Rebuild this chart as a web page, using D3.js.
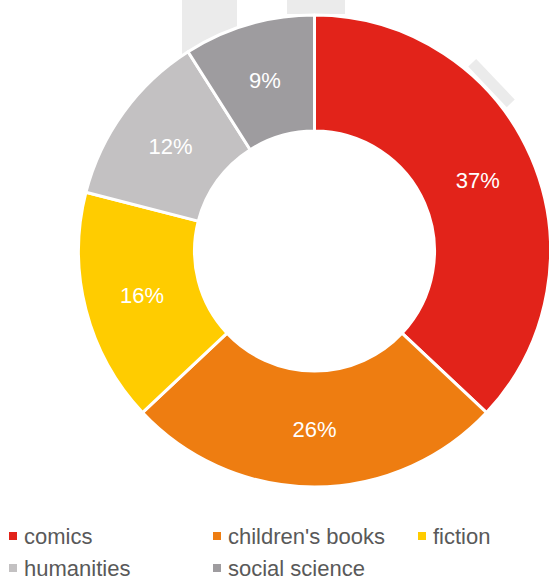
<!DOCTYPE html>
<html>
<head>
<meta charset="utf-8">
<script src="https://cdn.jsdelivr.net/npm/d3@7"></script>
<style>
  body { margin: 0; background: #fff; }
  svg { display: block; font-family: "Liberation Sans", Arial, sans-serif; }
</style>
</head>
<body>
<svg width="549" height="579"></svg>
<script>
// chart values
const categories = ["comics", "children's books", "fiction", "humanities", "social science"];
const shares = [37, 26, 16, 12, 9];
const colours = ["#e2231a", "#ee7d11", "#ffcc00", "#c3c1c2", "#9e9c9f"];

// faint backdrop pieces peeking out behind the ring
const backdropBars = [
  { x0: 182, x1: 237, depth: 60 },
  { x0: 287, x1: 345, depth: 14 }
];
const backdropTabs = [{ angle: 46.5, radius: 244, length: 56, thickness: 11 }];

function drawDonut()
{
  const svg = d3.select("svg");
  const cx = 314.5, cy = 251;
  const outerR = 236, innerR = 120;

  const back = svg.append("g").attr("fill", "#ebebeb");
  backdropBars.forEach((b) =>
  {
    back.append("rect")
      .attr("x", b.x0).attr("y", 0)
      .attr("width", b.x1 - b.x0).attr("height", b.depth);
  });
  backdropTabs.forEach((t) =>
  {
    const rad = t.angle * Math.PI / 180;
    const px = cx + t.radius * Math.sin(rad);
    const py = cy - t.radius * Math.cos(rad);
    back.append("rect")
      .attr("x", -t.length / 2).attr("y", -t.thickness / 2)
      .attr("width", t.length).attr("height", t.thickness)
      .attr("transform", `translate(${px},${py}) rotate(${t.angle})`);
  });

  const pie = d3.pie().sort(null).value((d) => d);
  const arc = d3.arc().innerRadius(innerR).outerRadius(outerR);
  const arcs = pie(shares);

  const ring = svg.append("g").attr("transform", `translate(${cx},${cy})`);
  ring.selectAll("path")
    .data(arcs)
    .join("path")
    .attr("d", arc)
    .attr("fill", (d, i) => colours[i])
    .attr("stroke", "#fff")
    .attr("stroke-width", 3)
    .attr("stroke-linejoin", "round");

  ring.selectAll("text")
    .data(arcs)
    .join("text")
    .attr("transform", (d) => `translate(${arc.centroid(d)})`)
    .attr("text-anchor", "middle")
    .attr("dy", "0.36em")
    .attr("fill", "#fff")
    .attr("font-size", 22)
    .text((d) => d.data + "%");

  // legend, three columns
  const colX = d3.scaleOrdinal().domain([0, 1, 2]).range([9, 213, 418]);
  const rowY = d3.scaleOrdinal().domain([0, 1]).range([544, 576]);
  const legend = svg.append("g");
  categories.forEach((name, i) =>
  {
    const x = colX(i % 3), y = rowY(Math.floor(i / 3));
    legend.append("rect")
      .attr("x", x).attr("y", y - 12)
      .attr("width", 8).attr("height", 8)
      .attr("fill", colours[i]);
    legend.append("text")
      .attr("x", x + 15).attr("y", y)
      .attr("fill", "#595959")
      .attr("font-size", 22)
      .text(name);
  });
}

drawDonut();
</script>
</body>
</html>
